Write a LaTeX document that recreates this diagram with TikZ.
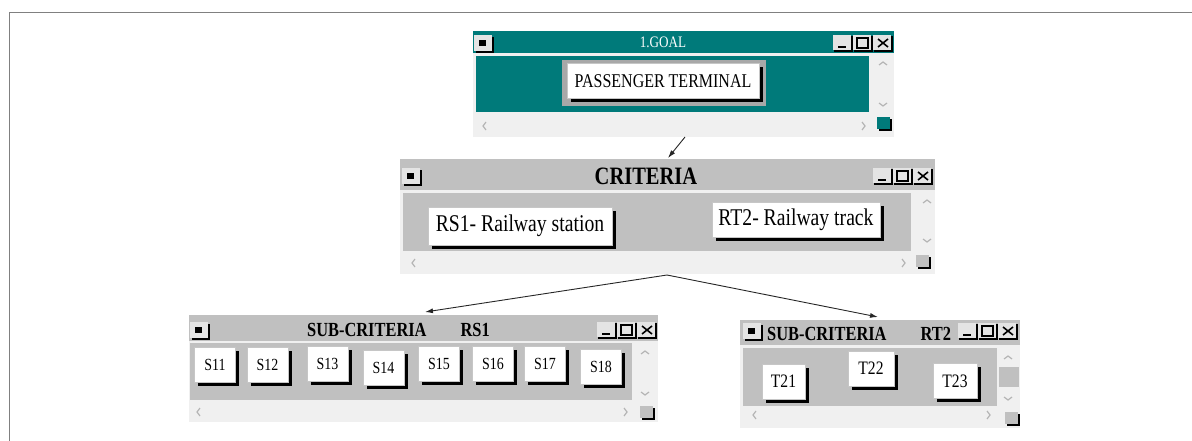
\documentclass[tikz,border=0pt]{standalone}
\usepackage{fontspec}
\usepackage{tikz}
\usetikzlibrary{positioning,arrows.meta,calc,shadows}
\newfontfamily\btnfont[FakeStretch=0.82]{Liberation Serif}
\definecolor{goalteal}{HTML}{007A7A}
\definecolor{wingray}{HTML}{C0C0C0}
\definecolor{panelc}{HTML}{F0F0F0}
\definecolor{boxface}{HTML}{E4E4E4}
\definecolor{ringc}{HTML}{A8A8A8}
\definecolor{framec}{HTML}{808080}
\definecolor{chevc}{HTML}{B4B4B4}
% small box at the left of a title bar
\newcommand{\sysbox}[2]{%
  \fill[black] ({#1+2},{#2+2}) rectangle ({#1+20},{#2+18});
  \fill[boxface] (#1,#2) rectangle ({#1+18},{#2+16});
  \fill[black] ({#1+5},{#2+5}) rectangle ({#1+12},{#2+11});
}
% minimise, maximise, close boxes; #1 = right edge, #2 = top
\newcommand{\ctlboxes}[2]{%
  \foreach \k in {1,2,3}{
    \fill[black] ({#1-20*\k+1},{#2+1}) rectangle ({#1-20*\k+20},{#2+17});
    \fill[boxface] ({#1-20*\k},{#2}) rectangle ({#1-20*\k+18},{#2+15});
  }
  \draw[line width=2pt] ({#1-55},{#2+12}) -- ({#1-47},{#2+12});
  \draw[line width=1.2pt] ({#1-36},{#2+3}) rectangle ({#1-25},{#2+13});
  \draw[line width=1.6pt] ({#1-15},{#2+4}) -- ({#1-5},{#2+12})
    ({#1-15},{#2+12}) -- ({#1-5},{#2+4});
}
% square in the bottom right corner
\newcommand{\gripbox}[3]{%
  \fill[black] ({#1+2},{#2+2}) rectangle ({#1+15},{#2+14});
  \fill[#3] (#1,#2) rectangle ({#1+13},{#2+12});
}
% scroll arrows
\newcommand{\chevl}[2]{\draw[chev] ({#1+3},{#2-4}) -- (#1,#2) -- ({#1+3},{#2+4});}
\newcommand{\chevr}[2]{\draw[chev] ({#1-3},{#2-4}) -- (#1,#2) -- ({#1-3},{#2+4});}
\newcommand{\chevu}[2]{\draw[chev] ({#1-4},{#2+3}) -- (#1,#2) -- ({#1+4},{#2+3});}
\newcommand{\chevd}[2]{\draw[chev] ({#1-4},{#2-3}) -- (#1,#2) -- ({#1+4},{#2-3});}

\begin{document}
\begin{tikzpicture}[x=1pt,y=-1pt,
    chev/.style={draw=chevc, line width=1.2pt},
    winbtn/.style={fill=white, draw=gray!45, line width=1pt, inner sep=0pt,
      drop shadow={shadow xshift=3.5pt, shadow yshift=-3.5pt, fill=black, opacity=1}},
    bigbtn/.style={winbtn, font=\btnfont\fontsize{24}{24}\selectfont},
    sbtn/.style={winbtn, minimum width=41pt, minimum height=35pt,
      font=\btnfont\fontsize{17}{17}\selectfont},
    tbtn/.style={winbtn, minimum height=35pt, font=\btnfont\fontsize{19}{19}\selectfont},
    bartext/.style={inner sep=0pt, font=\btnfont\bfseries\fontsize{20}{20}\selectfont},
    link/.style={draw=black!85, line width=0.9pt, -{Latex[length=8pt,width=5pt]}}]
  \useasboundingbox (0,0) rectangle (1192,441);
  \draw[framec, line width=1.2pt] (1192,12.5) -- (9.5,12.5) -- (9.5,441);

  % goal window
  \begin{scope}
    \fill[panelc] (473,31) rectangle (894,137);
    \fill[goalteal] (473,31) rectangle (894,53);
    \fill[goalteal] (476,56) rectangle (869,112);
    \sysbox{474}{35}
    \ctlboxes{893}{35}
    \node[inner sep=0pt, text=white, font=\btnfont\fontsize{16}{16}\selectfont]
      (goaltitle) at (663,42) {1.GOAL};
    \chevu{883}{62} \chevd{883}{106} \chevl{483}{126} \chevr{865}{126}
    \gripbox{877}{117}{goalteal}
    \fill[ringc] (562,60) rectangle (766,106);
    \node[winbtn, minimum width=192pt, minimum height=35pt,
      font=\btnfont\fontsize{19.5}{19.5}\selectfont]
      (goal) at (663,81.5) {PASSENGER TERMINAL};
  \end{scope}

  % criteria window
  \begin{scope}
    \fill[panelc] (400,159) rectangle (935,274);
    \fill[wingray] (400,159) rectangle (935,190);
    \fill[wingray] (403,193) rectangle (911,251);
    \sysbox{402}{168}
    \ctlboxes{933}{168}
    \node[bartext, font=\btnfont\bfseries\fontsize{25}{25}\selectfont]
      (crittitle) at (646,176) {CRITERIA};
    \chevu{927}{200} \chevd{927}{242} \chevl{412}{263} \chevr{905}{263}
    \gripbox{916}{255}{wingray}
    \node[bigbtn, minimum width=184pt, minimum height=38pt] (rs1) at (520,226)
      {RS1- Railway station};
    \node[bigbtn, minimum width=168pt, minimum height=35pt] (rt2) at (796,219.5)
      {RT2- Railway track};
  \end{scope}

  % sub-criteria RS1
  \begin{scope}
    \fill[panelc] (189,315) rectangle (658,422);
    \fill[wingray] (189,315) rectangle (658,341);
    \fill[wingray] (190,343) rectangle (632,400);
    \sysbox{190}{322}
    \ctlboxes{657}{322}
    \node[bartext, anchor=west] (rstitle) at (307,330)
      {SUB-CRITERIA\hspace{34pt}RS1};
    \chevu{645}{351} \chevd{645}{395} \chevl{197}{412} \chevr{627}{412}
    \gripbox{640}{406}{wingray}
    \foreach \n/\cx/\cy in {11/215/365, 12/267.5/365, 13/327.5/363.5, 14/383.5/368,
                            15/439/364, 16/493/364, 17/545/364, 18/601/366.5}
      \node[sbtn] (s\n) at (\cx,\cy) {S\n};
  \end{scope}

  % sub-criteria RT2
  \begin{scope}
    \fill[panelc] (740,320) rectangle (1020,428);
    \fill[wingray] (740,320) rectangle (1020,345);
    \fill[wingray] (743,348) rectangle (997,406);
    \fill[wingray] (999,367) rectangle (1019,387);
    \sysbox{743}{323}
    \ctlboxes{1018}{323}
    \node[bartext, anchor=west] (rttitle) at (767,334)
      {SUB-CRITERIA\hspace{34pt}RT2};
    \chevu{1008}{356} \chevd{1008}{400} \chevl{753}{415} \chevr{990}{415}
    \gripbox{1005}{412}{wingray}
    \node[tbtn, minimum width=43pt] (t21) at (783.5,381.5) {T21};
    \node[tbtn, minimum width=46pt] (t22) at (871,368.5) {T22};
    \node[tbtn, minimum width=44pt] (t23) at (955,381) {T23};
  \end{scope}

  % links between the windows
  \coordinate (goalout) at (685,137);
  \coordinate (critin) at (668,158);
  \coordinate (critout) at (667,275);
  \coordinate (rsin) at (425,312);
  \coordinate (rtin) at (878,317);
  \draw[link] (goalout) -- (critin);
  \draw[link] (critout) -- (rsin);
  \draw[link] (critout) -- (rtin);
\end{tikzpicture}
\end{document}
